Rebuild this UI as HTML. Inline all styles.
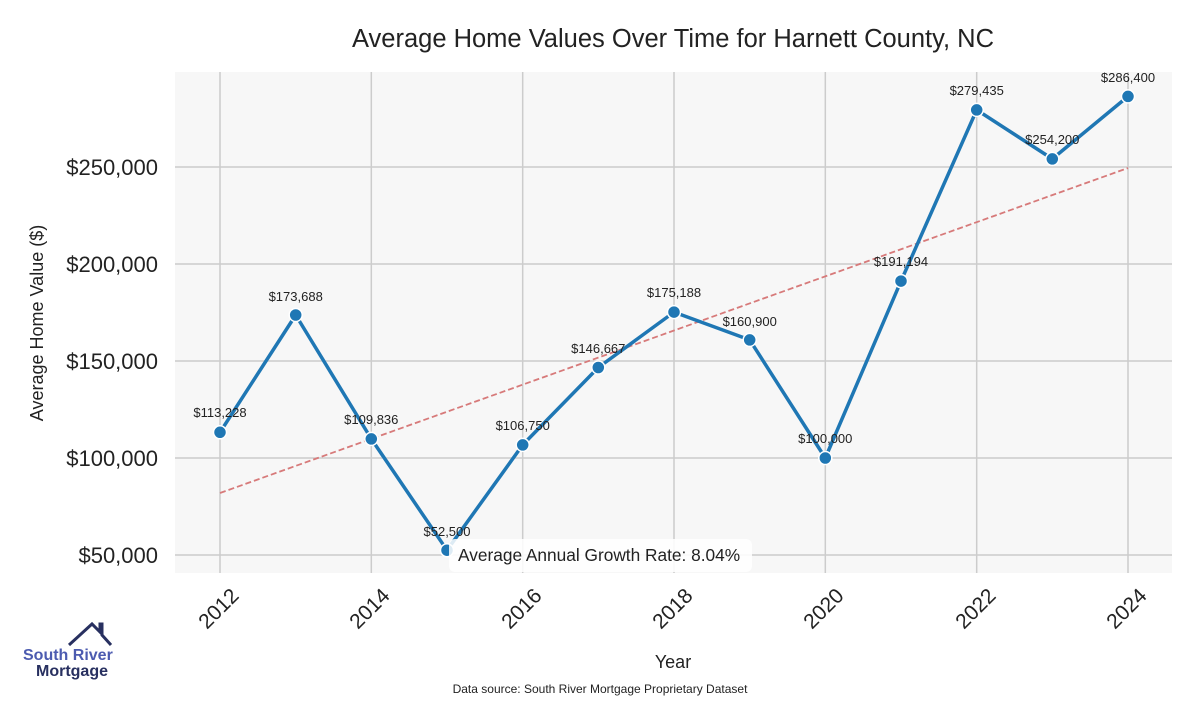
<!DOCTYPE html>
<html><head><style>body{margin:0;background:#fff}svg text{font-family:"Liberation Sans",sans-serif}</style></head><body>
<svg width="1200" height="700" xmlns="http://www.w3.org/2000/svg">
<rect x="175" y="72" width="997" height="501" fill="#f7f7f7"/>
<g stroke="#cccccc" stroke-width="1.5">
<line x1="175" x2="1172" y1="555" y2="555"/><line x1="175" x2="1172" y1="458" y2="458"/><line x1="175" x2="1172" y1="361" y2="361"/><line x1="175" x2="1172" y1="264" y2="264"/><line x1="175" x2="1172" y1="167" y2="167"/>
<line x1="220" x2="220" y1="72" y2="573"/><line x1="371.3" x2="371.3" y1="72" y2="573"/><line x1="522.7" x2="522.7" y1="72" y2="573"/><line x1="674" x2="674" y1="72" y2="573"/><line x1="825.3" x2="825.3" y1="72" y2="573"/><line x1="976.7" x2="976.7" y1="72" y2="573"/><line x1="1128" x2="1128" y1="72" y2="573"/>
</g>
<text x="673" y="47" font-size="25.5" text-anchor="middle" fill="#222">Average Home Values Over Time for Harnett County, NC</text>
<g font-size="22" fill="#222" text-anchor="end">
<text x="158" y="563">$50,000</text><text x="158" y="466">$100,000</text><text x="158" y="369">$150,000</text><text x="158" y="272">$200,000</text><text x="158" y="175">$250,000</text>
</g>
<text transform="translate(43,323) rotate(-90)" font-size="18" text-anchor="middle" fill="#222">Average Home Value ($)</text>
<g font-size="21" fill="#222" text-anchor="end">
<text transform="translate(240,597) rotate(-45)">2012</text><text transform="translate(391,597) rotate(-45)">2014</text><text transform="translate(543,597) rotate(-45)">2016</text><text transform="translate(694,597) rotate(-45)">2018</text><text transform="translate(845,597) rotate(-45)">2020</text><text transform="translate(997,597) rotate(-45)">2022</text><text transform="translate(1148,597) rotate(-45)">2024</text>
</g>
<text x="673" y="668" font-size="18" text-anchor="middle" fill="#222">Year</text>
<text x="600" y="693" font-size="12" text-anchor="middle" fill="#222">Data source: South River Mortgage Proprietary Dataset</text>
<line x1="220" y1="493" x2="1128" y2="168" stroke="#d77a7a" stroke-width="1.8" stroke-dasharray="6,3"/>
<polyline fill="none" stroke="#1f77b4" stroke-width="3.5" stroke-linejoin="round" points="220,432.3 295.7,315 371.3,438.9 447,550.2 522.7,444.9 598.3,367.5 674,312.1 749.7,339.9 825.3,458 901,281.1 976.7,109.9 1052.3,158.9 1128,96.4"/>
<g fill="#1f77b4" stroke="#fff" stroke-width="1.5">
<circle cx="220" cy="432.3" r="6.5"/><circle cx="295.7" cy="315" r="6.5"/><circle cx="371.3" cy="438.9" r="6.5"/><circle cx="447" cy="550.2" r="6.5"/><circle cx="522.7" cy="444.9" r="6.5"/><circle cx="598.3" cy="367.5" r="6.5"/><circle cx="674" cy="312.1" r="6.5"/><circle cx="749.7" cy="339.9" r="6.5"/><circle cx="825.3" cy="458" r="6.5"/><circle cx="901" cy="281.1" r="6.5"/><circle cx="976.7" cy="109.9" r="6.5"/><circle cx="1052.3" cy="158.9" r="6.5"/><circle cx="1128" cy="96.4" r="6.5"/>
</g>
<g font-size="13" fill="#222" text-anchor="middle">
<text x="220" y="417">$113,228</text><text x="295.7" y="301">$173,688</text><text x="371.3" y="424">$109,836</text><text x="447" y="536">$52,500</text><text x="522.7" y="430">$106,750</text><text x="598.3" y="353">$146,667</text><text x="674" y="297">$175,188</text><text x="749.7" y="326">$160,900</text><text x="825.3" y="443">$100,000</text><text x="901" y="266">$191,194</text><text x="976.7" y="95">$279,435</text><text x="1052.3" y="144">$254,200</text><text x="1128" y="82">$286,400</text>
</g>
<rect x="449" y="539" width="303" height="33" rx="6" fill="#fff" fill-opacity="0.85"/>
<text x="458" y="561" font-size="17.3" fill="#222">Average Annual Growth Rate: 8.04%</text>
<polyline points="69,645 92,624 100,632 100,624 102,624 102,635 111,645" fill="none" stroke="#283060" stroke-width="3"/>
<text x="23" y="660" font-size="16" font-weight="bold" fill="#4c5bb0">South River</text>
<text x="36" y="676" font-size="16" font-weight="bold" fill="#283060">Mortgage</text>
</svg>
</body></html>
